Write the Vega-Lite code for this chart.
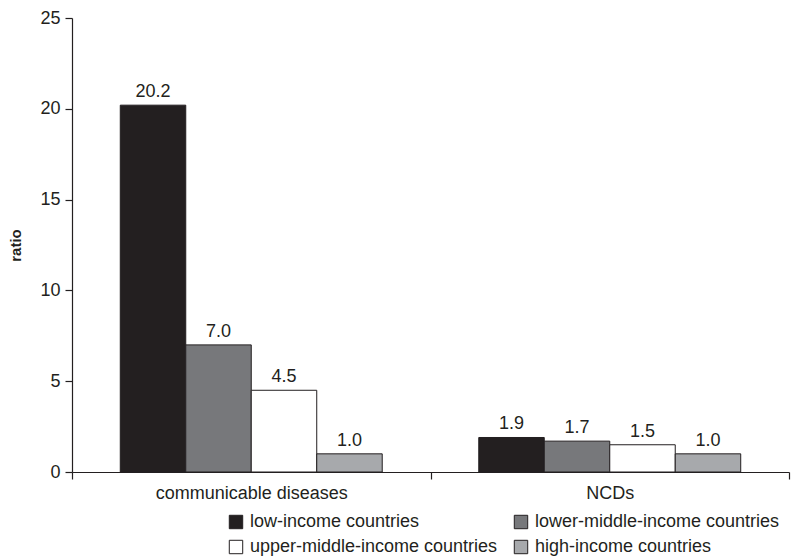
{
  "$schema": "https://vega.github.io/schema/vega-lite/v6.json",
  "width": 717,
  "height": 454,
  "autosize": "none",
  "padding": {"left": 72, "top": 18, "right": 5, "bottom": 87},
  "background": "white",
  "config": {
    "font": "Liberation Sans",
    "view": {"stroke": null}
  },
  "data": {
    "values": [
      {"category": "communicable diseases", "group": "low-income countries", "value": 20.2},
      {"category": "communicable diseases", "group": "lower-middle-income countries", "value": 7.0},
      {"category": "communicable diseases", "group": "upper-middle-income countries", "value": 4.5},
      {"category": "communicable diseases", "group": "high-income countries", "value": 1.0},
      {"category": "NCDs", "group": "low-income countries", "value": 1.9},
      {"category": "NCDs", "group": "lower-middle-income countries", "value": 1.7},
      {"category": "NCDs", "group": "upper-middle-income countries", "value": 1.5},
      {"category": "NCDs", "group": "high-income countries", "value": 1.0}
    ]
  },
  "encoding": {
    "x": {
      "field": "category",
      "type": "nominal",
      "sort": ["communicable diseases", "NCDs"],
      "scale": {"paddingInner": 0, "paddingOuter": 0},
      "axis": {
        "title": null,
        "labelAngle": 0,
        "labelFontSize": 18,
        "labelLimit": 0,
        "labelColor": "#231f20",
        "labelPadding": 5,
        "tickBand": "extent",
        "tickSize": 7,
        "tickColor": "#231f20",
        "domainColor": "#231f20",
        "domainWidth": 1.2,
        "tickWidth": 1.2
      }
    },
    "xOffset": {
      "field": "group",
      "type": "nominal",
      "sort": ["low-income countries", "lower-middle-income countries", "upper-middle-income countries", "high-income countries"],
      "scale": {"paddingInner": 0, "paddingOuter": 0.737}
    },
    "y": {
      "field": "value",
      "type": "quantitative",
      "scale": {"domain": [0, 25], "nice": false},
      "axis": {
        "title": "ratio",
        "titleFontSize": 15,
        "titleFontWeight": "bold",
        "titleColor": "#231f20",
        "titlePadding": 16,
        "values": [0, 5, 10, 15, 20, 25],
        "grid": false,
        "labelFontSize": 18,
        "labelColor": "#231f20",
        "labelPadding": 5,
        "tickSize": 7,
        "tickColor": "#231f20",
        "domainColor": "#231f20",
        "domainWidth": 1.2,
        "tickWidth": 1.2
      }
    }
  },
  "layer": [
    {
      "mark": {"type": "bar", "stroke": "#231f20", "strokeWidth": 1},
      "encoding": {
        "fill": {
          "field": "group",
          "type": "nominal",
          "scale": {
            "domain": ["low-income countries", "upper-middle-income countries", "lower-middle-income countries", "high-income countries"],
            "range": ["#231f20", "#ffffff", "#77787b", "#a7a9ac"]
          },
          "legend": {
            "title": null,
            "orient": "none",
            "legendX": 155,
            "legendY": 495,
            "columns": 2,
            "columnPadding": 14,
            "rowPadding": 7,
            "symbolType": "square",
            "symbolSize": 180,
            "symbolStrokeColor": "#231f20",
            "symbolStrokeWidth": 1,
            "labelFontSize": 18,
            "labelLimit": 0,
            "labelColor": "#231f20",
            "labelOffset": 5
          }
        }
      }
    },
    {
      "mark": {"type": "text", "baseline": "bottom", "dy": -4, "fontSize": 18, "color": "#231f20"},
      "encoding": {
        "text": {"field": "value", "type": "quantitative", "format": ".1f"}
      }
    }
  ]
}
